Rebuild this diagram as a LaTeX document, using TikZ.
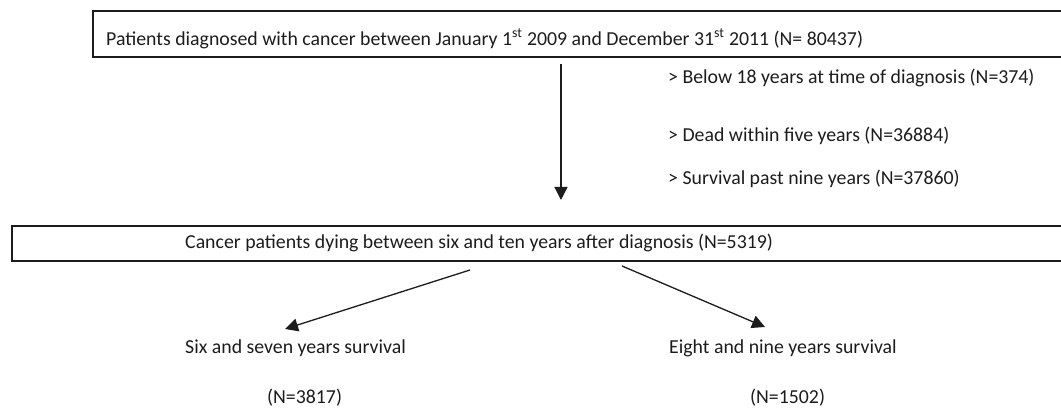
\documentclass[tikz,border=0pt]{standalone}
\usepackage{fontspec}
\setmainfont{Carlito}
\usepackage{xcolor}
\usepackage{tikz}
\usetikzlibrary{arrows.meta,calc}
\definecolor{fInk}{HTML}{1C1C1C}

\begin{document}
\begin{tikzpicture}[x=1pt, y=1pt, font=\fontsize{19.8}{24}\selectfont,
  frame/.style={draw=fInk, line width=2pt, anchor=north west, inner sep=0pt},
  lbl/.style={text=fInk, anchor=west, inner sep=0pt},
  arr/.style={draw=fInk, line width=1.3pt, -{Triangle[length=13pt,width=13pt]}}]
\clip (0,0) rectangle (1061,411);
\node[frame, minimum width=990, minimum height=46] (pop) at (92,401) {};
\node[lbl] (popt) at (106,372) {Patients diagnosed with cancer between January 1\textsuperscript{st} 2009 and December 31\textsuperscript{st} 2011 (N= 80437)};
\node[lbl] (ex1) at (668,333) {> Below 18 years at time of diagnosis (N=374)};
\node[lbl] (ex2) at (668,275) {> Dead within five years (N=36884)};
\node[lbl] (ex3) at (668,232) {> Survival past nine years (N=37860)};
\node[frame, minimum width=1070, minimum height=35] (dyn) at (11,186) {};
\node[lbl] (dynt) at (185,168) {Cancer patients dying between six and ten years after diagnosis (N=5319)};
\node[lbl] (g1) at (185,63) {Six and seven years survival};
\node[lbl] (g1n) at (267,13) {(N=3817)};
\node[lbl] (g2) at (669,63) {Eight and nine years survival};
\node[lbl] (g2n) at (750,13) {(N=1502)};
\coordinate (ax) at (561,0);
\coordinate (s1) at (470,141);
\coordinate (t1) at (285,82);
\coordinate (s2) at (622,145);
\coordinate (t2) at (765,84);
\draw[arr, shorten <=6pt, shorten >=25pt] (pop.south -| ax) -- (dyn.north -| ax);
\draw[arr] (s1) -- (t1);
\draw[arr] (s2) -- (t2);
\end{tikzpicture}
\end{document}
